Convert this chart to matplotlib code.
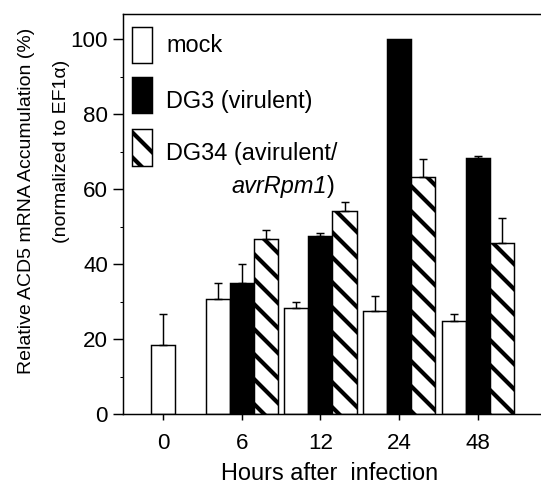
import matplotlib
matplotlib.use("Agg")
import matplotlib.pyplot as plt
from matplotlib.patches import Rectangle

# data
hours = ["0", "6", "12", "24", "48"]
mock = [18.4, 30.8, 28.3, 27.5, 24.9]
mock_err = [8.3, 4.2, 1.6, 4.0, 1.7]
dg3 = [None, 35.0, 47.5, 100.0, 68.2]
dg3_err = [None, 5.0, 0.9, 0.0, 0.7]
dg34 = [None, 46.7, 54.1, 63.1, 45.7]
dg34_err = [None, 2.3, 2.4, 5.0, 6.5]

DPI = 75
plt.rcParams["font.family"] = ["Liberation Sans", "DejaVu Sans"]
plt.rcParams["hatch.linewidth"] = 4.0

fig = plt.figure(figsize=(541 / DPI, 493 / DPI), dpi=DPI)
ax = fig.add_axes([0.2274, 0.1602, 0.7706, 0.8114])

w = 0.305
lw = 1.4
err_kw = dict(ecolor="black", elinewidth=lw, capsize=4.3, capthick=lw)

# mock: only the 0 h bar sits on the tick
for i, v in enumerate(mock):
    x = i if i == 0 else i - w
    ax.bar(x, v, w, color="white", edgecolor="black", linewidth=lw,
           yerr=[[0], [mock_err[i]]], error_kw=err_kw, zorder=2)

for i in range(1, len(hours)):
    ax.bar(i, dg3[i], w, color="black", edgecolor="black", linewidth=lw,
           yerr=[[0], [dg3_err[i]]] if dg3_err[i] else None,
           error_kw=err_kw, zorder=2)
    ax.bar(i + w, dg34[i], w, color="white", edgecolor="black", linewidth=lw,
           hatch="\\", yerr=[[0], [dg34_err[i]]], error_kw=err_kw, zorder=2)

ax.set_xlim(-0.508, 4.787)
ax.set_ylim(0, 106.7)
ax.set_xticks(range(len(hours)))
ax.set_xticklabels(hours)
ax.set_yticks([0, 20, 40, 60, 80, 100])
ax.set_yticks(range(10, 101, 20), minor=True)

ax.spines["right"].set_visible(False)
for s in ["left", "top", "bottom"]:
    ax.spines[s].set_linewidth(lw)

ax.tick_params(axis="y", which="major", length=9.6, width=lw, pad=4.8,
               labelsize=21.5)
ax.tick_params(axis="y", which="minor", length=3, width=1.0)
ax.tick_params(axis="x", length=5.8, width=lw, pad=12, labelsize=21.5)

# legend by hand, so the second line of DG34 can sit right-aligned
leg = [("white", "", "mock", 0.8768, 0.9058),
       ("black", "", "DG3 (virulent)", 0.7518, 0.765),
       ("white", "\\", "DG34 (avirulent/", 0.6208, 0.635)]
for fc, h, label, y0, yt in leg:
    ax.add_patch(Rectangle((0.0216, y0), 0.048, 0.0915, transform=ax.transAxes,
                           facecolor=fc, edgecolor="black", linewidth=lw,
                           hatch=h, clip_on=False))
    ax.text(0.103, yt, label, transform=ax.transAxes, fontsize=22.5,
            va="baseline", ha="left")
ax.text(0.5084, 0.5518, ")", transform=ax.transAxes, fontsize=22.5,
        va="baseline", ha="right")
ax.text(0.4897, 0.5518, "avrRpm1", transform=ax.transAxes, fontsize=22.5,
        fontstyle="italic", va="baseline", ha="right")

fig.text(0.0499, 0.5933, "Relative ACD5 mRNA Accumulation (%)", rotation=90,
         fontsize=18.7, ha="center", va="center")
fig.text(0.1146, 0.6927, "(normalized to EF1α)", rotation=90,
         fontsize=18.7, ha="center", va="center")
fig.text(0.61, 0.0264, "Hours after  infection", fontsize=22.5,
         ha="center", va="baseline")

fig.savefig("out.png", dpi=DPI)
